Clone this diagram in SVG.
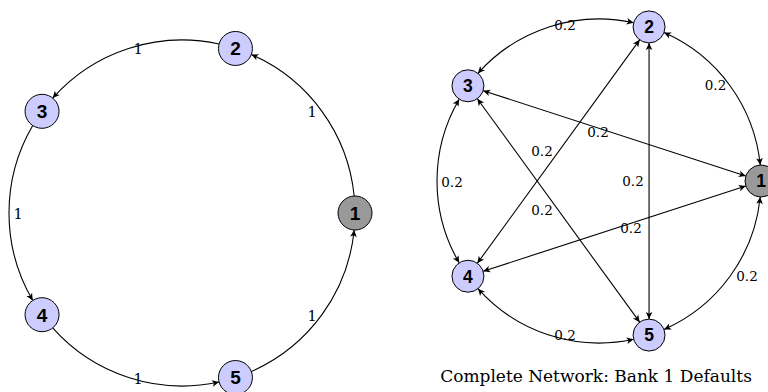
<svg xmlns="http://www.w3.org/2000/svg" width="768" height="392" viewBox="0 0 768 392">
<style>
.bg{fill:#fff}
.e{fill:none;stroke:#000;stroke-width:1.1}
.n{fill:#ccccff;stroke:#000;stroke-width:1}
.g{fill:#999999;stroke:#000;stroke-width:1}
.nl{font-family:"Liberation Sans",Arial,sans-serif;font-weight:bold;text-anchor:middle;fill:#000}
.nlL{font-size:19px}
.nlR{font-size:17.5px}
.lb{font-family:"DejaVu Serif","Liberation Serif",serif;text-anchor:middle;fill:#000}
.lbL{font-size:14.5px}
.lbR{font-size:13.5px}
.cap{font-family:"DejaVu Serif","Liberation Serif",serif;font-size:17px;text-anchor:middle;fill:#000}
</style>
<defs>
<marker id="ah" viewBox="-8 -4 9 8" refX="0" refY="0" markerWidth="9" markerHeight="8" markerUnits="userSpaceOnUse" orient="auto-start-reverse">
<path d="M0,0 L-7,-3.3 L-5.2,0 L-7,3.3 Z" fill="#000"/>
</marker>
</defs>
<rect class="bg" x="0" y="0" width="768" height="392"/>

<g id="connectors-left">
<path class="e" marker-end="url(#ah)" d="M354.17,196.03 A173,173 0 0 0 251.34,54.51"/>
<path class="e" marker-end="url(#ah)" d="M219.06,44.02 A173,173 0 0 0 52.68,98.09"/>
<path class="e" marker-end="url(#ah)" d="M32.74,125.54 A173,173 0 0 0 32.74,300.46"/>
<path class="e" marker-end="url(#ah)" d="M52.68,327.91 A173,173 0 0 0 219.06,381.98"/>
<path class="e" marker-end="url(#ah)" d="M251.34,371.49 A173,173 0 0 0 354.17,229.97"/>
</g>
<g id="edge-labels-left">
<text class="lb lbL" x="312" y="117">1</text>
<text class="lb lbL" x="138" y="53.6">1</text>
<text class="lb lbL" x="18" y="219.3">1</text>
<text class="lb lbL" x="138" y="383.8">1</text>
<text class="lb lbL" x="312" y="321">1</text>
</g>

<g id="connectors-right">
<path class="e" marker-start="url(#ah)" marker-end="url(#ah)" d="M760.21,165.02 A162,162 0 0 0 664.01,32.61"/>
<path class="e" marker-start="url(#ah)" marker-end="url(#ah)" d="M633.62,22.74 A162,162 0 0 0 477.96,73.33"/>
<path class="e" marker-start="url(#ah)" marker-end="url(#ah)" d="M459.19,99.16 A162,162 0 0 0 459.19,262.84"/>
<path class="e" marker-start="url(#ah)" marker-end="url(#ah)" d="M477.96,288.67 A162,162 0 0 0 633.62,339.26"/>
<path class="e" marker-start="url(#ah)" marker-end="url(#ah)" d="M664.01,329.39 A162,162 0 0 0 760.21,196.98"/>
<path class="e" marker-start="url(#ah)" marker-end="url(#ah)" d="M483.16,90.72 L745.78,176.06"/>
<path class="e" marker-start="url(#ah)" marker-end="url(#ah)" d="M483.16,271.28 L745.78,185.94"/>
<path class="e" marker-start="url(#ah)" marker-end="url(#ah)" d="M639.66,39.87 L477.34,263.28"/>
<path class="e" marker-start="url(#ah)" marker-end="url(#ah)" d="M649.06,42.93 L649.06,319.07"/>
<path class="e" marker-start="url(#ah)" marker-end="url(#ah)" d="M477.34,98.72 L639.66,322.13"/>
</g>
<g id="edge-labels-right">
<text class="lb lbR" x="565" y="30">0.2</text>
<text class="lb lbR" x="715.5" y="90">0.2</text>
<text class="lb lbR" x="747" y="281">0.2</text>
<text class="lb lbR" x="565" y="340">0.2</text>
<text class="lb lbR" x="452" y="187">0.2</text>
<text class="lb lbR" x="598" y="137">0.2</text>
<text class="lb lbR" x="542" y="156">0.2</text>
<text class="lb lbR" x="633" y="186">0.2</text>
<text class="lb lbR" x="542" y="215">0.2</text>
<text class="lb lbR" x="631" y="233">0.2</text>
</g>

<g id="L1"><circle class="g" cx="355" cy="213" r="17"/><text class="nl nlL" x="355" y="219.8">1</text></g>
<g id="L2"><circle class="n" cx="235.46" cy="48.47" r="17"/><text class="nl nlL" x="235.46" y="55.3">2</text></g>
<g id="L3"><circle class="n" cx="42.04" cy="111.31" r="17"/><text class="nl nlL" x="42.04" y="118.1">3</text></g>
<g id="L4"><circle class="n" cx="42.04" cy="314.69" r="17"/><text class="nl nlL" x="42.04" y="321.5">4</text></g>
<g id="L5"><circle class="n" cx="235.46" cy="377.53" r="17"/><text class="nl nlL" x="235.46" y="384.3">5</text></g>

<g id="R1"><circle class="g" cx="761" cy="181" r="16"/><text class="nl nlR" x="761" y="187.3">1</text></g>
<g id="R2"><circle class="n" cx="649.06" cy="26.93" r="16"/><text class="nl nlR" x="649.06" y="33.2">2</text></g>
<g id="R3"><circle class="n" cx="467.94" cy="85.78" r="16"/><text class="nl nlR" x="467.94" y="92.1">3</text></g>
<g id="R4"><circle class="n" cx="467.94" cy="276.22" r="16"/><text class="nl nlR" x="467.94" y="282.5">4</text></g>
<g id="R5"><circle class="n" cx="649.06" cy="335.07" r="16"/><text class="nl nlR" x="649.06" y="341.4">5</text></g>

<text id="caption" class="cap" x="596" y="382">Complete Network: Bank 1 Defaults</text>
</svg>
